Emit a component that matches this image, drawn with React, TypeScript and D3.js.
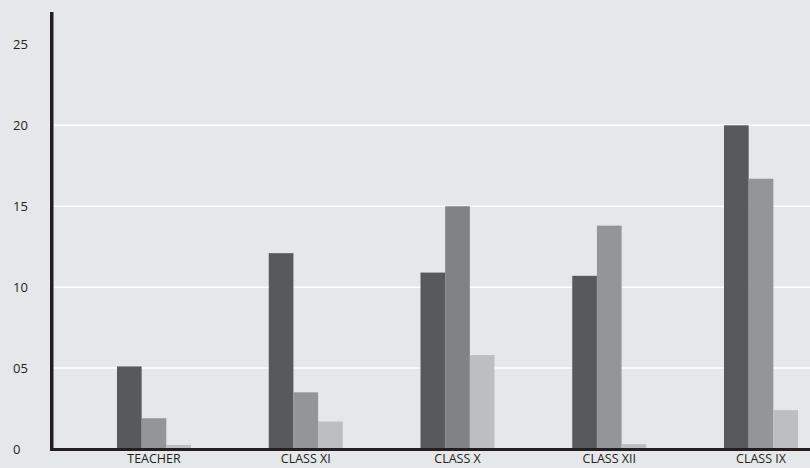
import React, { useMemo } from "react";
import { scaleLinear, scalePoint, scaleBand } from "d3";

const categories = ["TEACHER", "CLASS XI", "CLASS X", "CLASS XII", "CLASS IX"];
const seriesNames = ["Series 1", "Series 2", "Series 3"];
const series1 = [5.1, 12.1, 10.9, 10.7, 20.0];
const series2 = [1.9, 3.5, 15.0, 13.8, 16.7];
const series3 = [0.25, 1.7, 5.8, 0.3, 2.4];
const yTicks = [0, 5, 10, 15, 20, 25];
const yTickLabels = ["0", "05", "10", "15", "20", "25"];

const width = 810;
const height = 468;
const bg = "#e6e7e8";
const axisColor = "#231f20";
const seriesColors = ["#58595b", "#939598", "#bcbec0"];
// the middle bar of CLASS X is a shade darker in the original
const specialColor: Record<string, string> = { "CLASS X-1": "#808285" };

const App: React.FC = () => {
	const values = [series1, series2, series3];

	const y = useMemo(() => scaleLinear().domain([0, 27]).range([449, 12]), []);
	const x = useMemo(() => scalePoint<string>().domain(categories).range([154, 761]), []);
	const inner = useMemo(
		() => scaleBand<string>().domain(seriesNames).range([-37, 37]).padding(0),
		[]
	);

	const font = "'Open Sans', 'DejaVu Sans', sans-serif";

	return (
		<svg
			width={width}
			height={height}
			style={{ position: "fixed", left: 0, top: 0, display: "block" }}
		>
			<rect x={0} y={0} width={width} height={height} fill={bg} />

			{yTicks.filter((t) => t > 0 && t < 25).map((t) => (
				<line key={t} x1={53} x2={width} y1={y(t)} y2={y(t)} stroke="#ffffff" strokeWidth={1.5} />
			))}

			{categories.map((cat, ci) => (
				<g key={cat} transform={`translate(${x(cat)},0)`}>
					{seriesNames.map((s, si) => {
						const v = values[si][ci];
						return (
							<rect
								key={s}
								x={inner(s)}
								y={y(v)}
								width={inner.bandwidth()}
								height={y(0) - y(v)}
								fill={specialColor[`${cat}-${si}`] ?? seriesColors[si]}
							/>
						);
					})}
					<text
						x={0}
						y={463}
						textAnchor="middle"
						fontFamily={font}
						fontSize={12.5}
						fill={axisColor}
					>
						{cat}
					</text>
				</g>
			))}

			{yTicks.map((t, i) => (
				<text
					key={t}
					x={13}
					y={y(t)}
					dy="0.35em"
					fontFamily={font}
					fontSize={13}
					fill={axisColor}
				>
					{yTickLabels[i]}
				</text>
			))}

			<line x1={51.75} x2={51.75} y1={12} y2={451} stroke={axisColor} strokeWidth={3.5} />
			<line x1={50} x2={width} y1={449.5} y2={449.5} stroke={axisColor} strokeWidth={3} />
		</svg>
	);
};

export default App;
